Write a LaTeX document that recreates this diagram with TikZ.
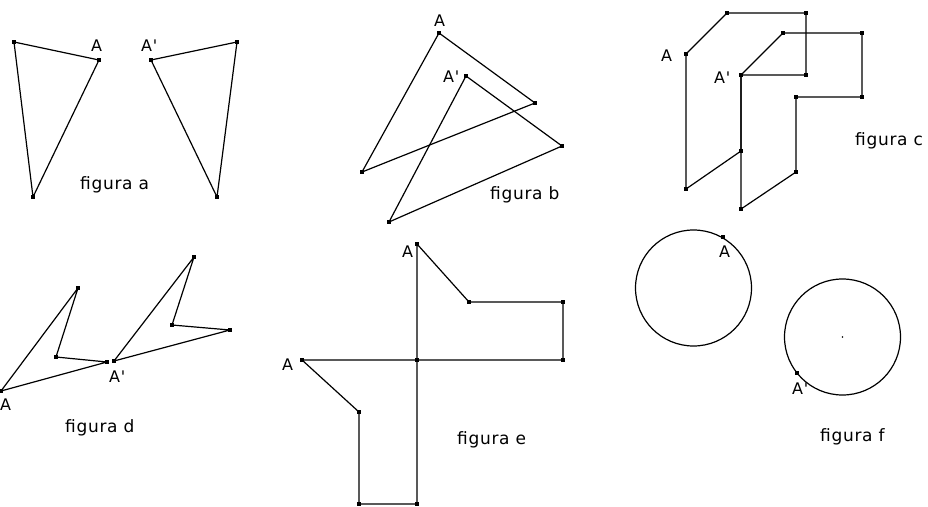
\documentclass[tikz,border=0pt]{standalone}
\usepackage{fontspec}
\setmainfont{DejaVu Sans}[LetterSpace=4,Ligatures=TeXOff]
\begin{document}
\begin{tikzpicture}[x=1pt,y=-1pt,
  vtx/.style={rectangle,fill=black,inner sep=0pt,minimum size=4.5pt},
  ln/.style={line width=1.2pt,line join=round},
  lab/.style={anchor=base west,inner sep=0pt,font=\fontsize{16}{16}\selectfont},
  figcap/.style={anchor=base west,inner sep=0pt,font=\fontsize{17}{17}\selectfont}]
\fill[white] (0,0) rectangle (928,506);
\useasboundingbox (0,0) rectangle (928,506);
% ---------- figura a
\node[vtx] (a1) at (14,42) {};
\node[vtx] (aA) at (99,60) {};
\node[vtx] (a3) at (33,197) {};
\draw[ln] (a1.center) -- (aA.center) -- (a3.center) -- cycle;
\node[vtx] (aA2) at (151,60) {};
\node[vtx] (a5) at (237,42) {};
\node[vtx] (a6) at (217,197) {};
\draw[ln] (aA2.center) -- (a5.center) -- (a6.center) -- cycle;
\node[lab] (laA) at (91,51) {A};
\node[lab] (laA2) at (141,51) {A'};
\node[figcap] (ta) at (80,189) {figura a};
% ---------- figura b
\node[vtx] (bA) at (439,33) {};
\node[vtx] (b2) at (535,103) {};
\node[vtx] (b3) at (362,172) {};
\draw[ln] (bA.center) -- (b2.center) -- (b3.center) -- cycle;
\node[vtx] (bA2) at (466,76) {};
\node[vtx] (b5) at (562,146) {};
\node[vtx] (b6) at (389,222) {};
\draw[ln] (bA2.center) -- (b5.center) -- (b6.center) -- cycle;
\node[lab] (lbA) at (434,27) {A};
\node[lab] (lbA2) at (443,82) {A'};
\node[figcap] (tb) at (490,199) {figura b};
% ---------- figura c
\node[vtx] (cA) at (686,54) {};
\node[vtx] (c2) at (727,13) {};
\node[vtx] (c3) at (806,13) {};
\node[vtx] (c4) at (806,75) {};
\node[vtx] (c5) at (741,75) {};
\node[vtx] (c6) at (741,151) {};
\node[vtx] (c7) at (686,189) {};
\draw[ln] (cA.center) -- (c2.center) -- (c3.center) -- (c4.center) -- (c5.center) -- (c6.center) -- (c7.center) -- cycle;
\node[vtx] (cA2) at (741,75) {};
\node[vtx] (k2) at (783,33) {};
\node[vtx] (k3) at (862,33) {};
\node[vtx] (k4) at (862,97) {};
\node[vtx] (k5) at (796,97) {};
\node[vtx] (k6) at (796,172) {};
\node[vtx] (k7) at (741,209) {};
\draw[ln] (cA2.center) -- (k2.center) -- (k3.center) -- (k4.center) -- (k5.center) -- (k6.center) -- (k7.center) -- cycle;
\node[lab] (lcA) at (661,61) {A};
\node[lab] (lcA2) at (714,83) {A'};
\node[figcap] (tc) at (855,145) {figura c};
% ---------- figura d
\node[vtx] (dA) at (1,391) {};
\node[vtx] (d2) at (78,288) {};
\node[vtx] (d3) at (56,357) {};
\node[vtx] (d4) at (107,362) {};
\draw[ln] (dA.center) -- (d2.center) -- (d3.center) -- (d4.center) -- cycle;
\node[vtx] (dA2) at (114,361) {};
\node[vtx] (e2) at (194,257) {};
\node[vtx] (e3) at (172,325) {};
\node[vtx] (e4) at (230,330) {};
\draw[ln] (dA2.center) -- (e2.center) -- (e3.center) -- (e4.center) -- cycle;
\node[lab] (ldA) at (0,410) {A};
\node[lab] (ldA2) at (109,382) {A'};
\node[figcap] (td) at (65,432) {figura d};
% ---------- figura e
\node[vtx] (eTop) at (417,244) {};
\node[vtx] (eC) at (417,360) {};
\node[vtx] (eBot) at (417,504) {};
\node[vtx] (f2) at (469,302) {};
\node[vtx] (f3) at (563,302) {};
\node[vtx] (f4) at (563,360) {};
\draw[ln] (eTop.center) -- (f2.center) -- (f3.center) -- (f4.center) -- (eC.center) -- cycle;
\node[vtx] (eA) at (302,360) {};
\node[vtx] (g2) at (359,412) {};
\node[vtx] (g3) at (359,504) {};
\draw[ln] (eA.center) -- (g2.center) -- (g3.center) -- (eBot.center) -- (eC.center) -- cycle;
\node[lab] (leA) at (282,370) {A};
\node[lab] (leA2) at (402,257) {A};
\node[figcap] (te) at (457,444) {figura e};
% ---------- figura f
\coordinate (o1) at (693.5,288);
\coordinate (o2) at (842.5,337);
\draw[ln] (o1) circle[radius=58];
\draw[ln] (o2) circle[radius=58];
\fill (o2) circle[radius=0.9];
\node[vtx] (fA) at (723,237) {};
\node[vtx] (fA2) at (797,373) {};
\node[lab] (lfA) at (719,257) {A};
\node[lab] (lfA2) at (792,394) {A'};
\node[figcap] (tf) at (820,441) {figura f};
\end{tikzpicture}
\end{document}
